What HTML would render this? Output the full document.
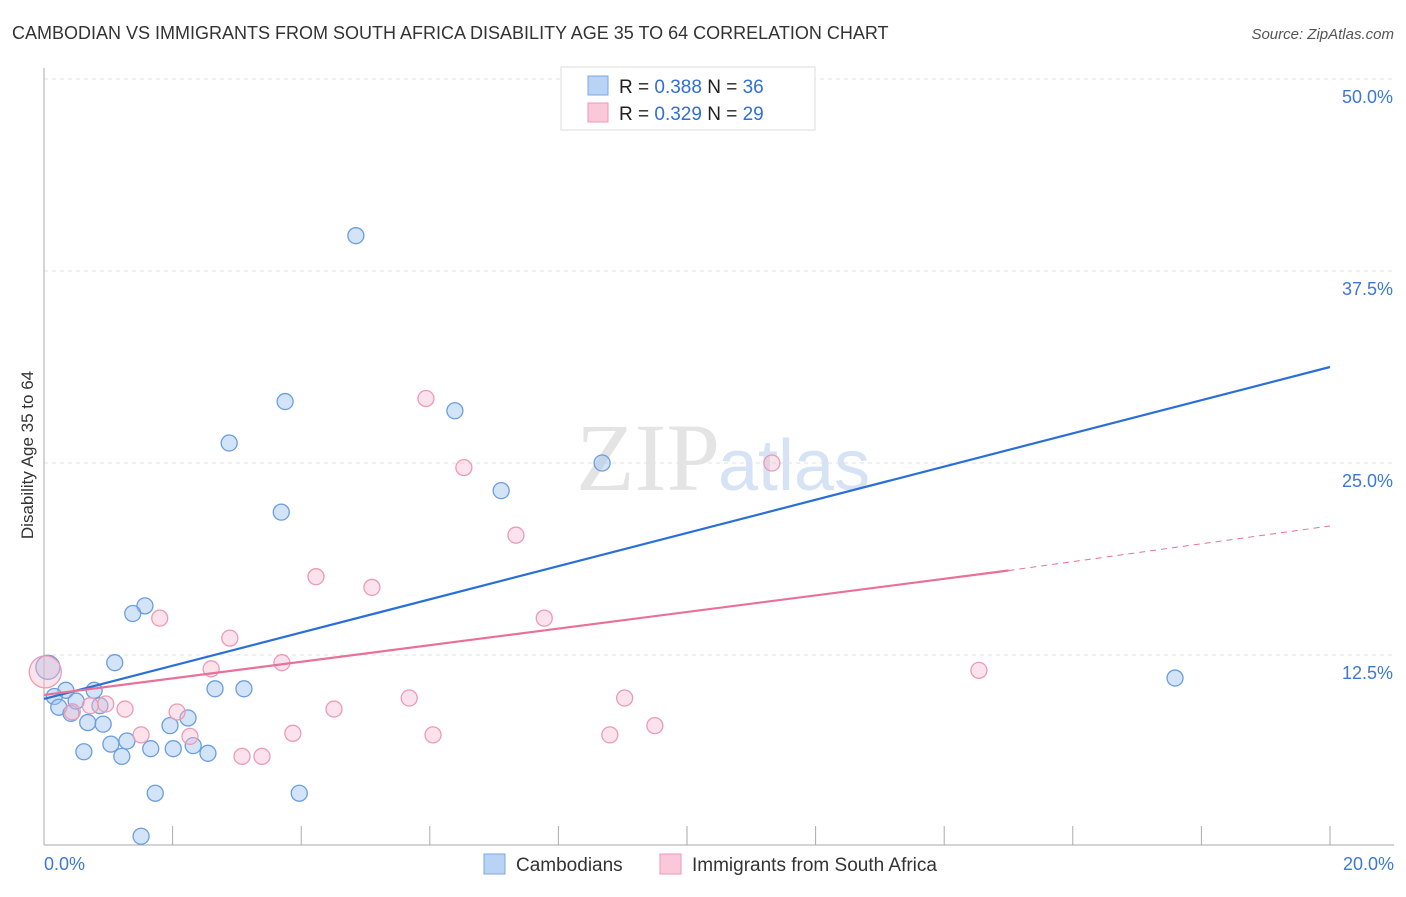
<!DOCTYPE html>
<html><head><meta charset="utf-8"><style>
body{margin:0;background:#fff;font-family:"Liberation Sans",sans-serif;}
</style></head><body>
<svg width="1406" height="892" xmlns="http://www.w3.org/2000/svg" font-family="Liberation Sans, sans-serif">
<text x="12" y="39" font-size="18" fill="#333">CAMBODIAN VS IMMIGRANTS FROM SOUTH AFRICA DISABILITY AGE 35 TO 64 CORRELATION CHART</text>
<text x="1394" y="39" font-size="15" fill="#555" font-style="italic" text-anchor="end">Source: ZipAtlas.com</text>
<text x="720" y="490" font-size="96" font-family="Liberation Serif, serif" fill="#e4e4e4" text-anchor="end">ZIP</text>
<text x="718" y="490" font-size="72" fill="#d5e3f5">atlas</text>
<g id="grid"></g>
<g id="axes"></g>
<g id="points"></g>
<g id="lines"></g>
<text transform="translate(33,455) rotate(-90)" font-size="17" fill="#333" text-anchor="middle">Disability Age 35 to 64</text>
<text x="44" y="870" font-size="18" fill="#3b78d8">0.0%</text>
<text x="1394" y="870" font-size="18" fill="#3b78d8" text-anchor="end">20.0%</text>
<g>
<rect x="561" y="67" width="254" height="63" fill="#fff" stroke="#ddd"/>
<rect x="588" y="76" width="20" height="19" fill="#b9d3f5" stroke="#7aa7e6"/>
<rect x="588" y="103" width="20" height="19" fill="#fac8d8" stroke="#ec98b4"/>
<text x="619" y="93" font-size="19" fill="#222">R = <tspan fill="#2f6fd6">0.388</tspan>   N = <tspan fill="#2f6fd6">36</tspan></text>
<text x="619" y="120" font-size="19" fill="#222">R = <tspan fill="#2f6fd6">0.329</tspan>   N = <tspan fill="#2f6fd6">29</tspan></text>
</g>
<g>
<rect x="484" y="854" width="21" height="20" fill="#b9d3f5" stroke="#7aa7e6"/>
<text x="516" y="871" font-size="19" fill="#333">Cambodians</text>
<rect x="660" y="854" width="21" height="20" fill="#fac8d8" stroke="#ec98b4"/>
<text x="692" y="871" font-size="19" fill="#333">Immigrants from South Africa</text>
</g>
</svg>
<script>
const yTicks=[12.5,25,37.5,50];
const yTickLabels=["12.5%","25.0%","37.5%","50.0%"];
const xTicks=[0,2,4,6,8,10,12,14,16,18,20];
const blueX=[4.85,3.75,6.39,2.88,8.68,3.69,7.11,1.57,1.38,1.10,17.59,0.06,0.34,0.78,0.16,2.66,3.11,0.23,0.87,0.42,2.24,0.68,0.92,1.96,1.29,1.04,1.66,2.01,0.62,2.32,1.21,2.55,1.73,3.97,1.51,0.50];
const blueY=[39.8,29.0,28.4,26.3,25.0,21.8,23.2,15.7,15.2,12.0,11.0,11.7,10.2,10.2,9.8,10.3,10.3,9.1,9.2,8.7,8.4,8.1,8.0,7.9,6.9,6.7,6.4,6.4,6.2,6.6,5.9,6.1,3.5,3.5,0.7,9.5];
const blueR=[8,8,8,8,8,8,8,8,8,8,8,12,8,8,8,8,8,8,8,8,8,8,8,8,8,8,8,8,8,8,8,8,8,8,8,8];
const pinkX=[5.94,6.53,11.32,7.34,4.23,5.10,1.80,7.78,2.89,3.70,2.60,14.54,0.02,5.68,9.03,1.26,2.07,4.51,0.96,9.50,3.87,6.05,8.80,1.51,2.27,3.08,3.39,0.44,0.72];
const pinkY=[29.2,24.7,25.0,20.3,17.6,16.9,14.9,14.9,13.6,12.0,11.6,11.5,11.4,9.7,9.7,8.98,8.79,8.98,9.31,7.9,7.4,7.3,7.3,7.3,7.2,5.9,5.9,8.8,9.2];
const pinkR=[8,8,8,8,8,8,8,8,8,8,8,8,16,8,8,8,8,8,8,8,8,8,8,8,8,8,8,8,8];
const blueTrend=[[0,9.64],[20,31.25]];
const pinkSolid=[[0,9.9],[15.0,18.0]];
const pinkDash=[[15.0,18.0],[20,20.9]];
const NS="http://www.w3.org/2000/svg";
const X=v=>44+v*64.3, Y=v=>847-v*15.36;
function mk(tag,attrs,parent){const e=document.createElementNS(NS,tag);for(const k in attrs)e.setAttribute(k,attrs[k]);document.getElementById(parent).appendChild(e);return e;}
yTicks.forEach((t,i)=>{
 const l=mk('line',{x1:44,x2:1394,y1:Y(t),y2:Y(t),stroke:'#e2e2e2','stroke-dasharray':'4,4'},'grid');
 
 
 const tx=mk('text',{x:1393,y:Y(t)+24,'font-size':18,fill:'#3b78d8','text-anchor':'end'},'grid');
 tx.textContent=yTickLabels[i];
 
 
});
let a=mk('line',{x1:44,x2:44,y1:68,y2:845,stroke:'#aaa'},'axes');


a=mk('line',{x1:44,x2:1394,y1:845,y2:845,stroke:'#aaa'},'axes');


xTicks.forEach(t=>{const l=mk('line',{x1:X(t),x2:X(t),y1:826,y2:845,stroke:'#aaa'},'axes');
 
 });
blueX.forEach((v,i)=>{const c=mk('circle',{cx:X(v),cy:Y(blueY[i]),r:blueR[i],fill:'rgba(160,195,240,0.45)',stroke:'#6a9ee0','stroke-width':1.3},'points');
 
 });
pinkX.forEach((v,i)=>{const c=mk('circle',{cx:X(v),cy:Y(pinkY[i]),r:pinkR[i],fill:'rgba(248,185,205,0.4)',stroke:'#ec9ab6','stroke-width':1.3},'points');
 
 });
let t=mk('line',{x1:X(blueTrend[0][0]),y1:Y(blueTrend[0][1]),x2:X(blueTrend[1][0]),y2:Y(blueTrend[1][1]),stroke:'#2a6fd6','stroke-width':2.2},'lines');


t=mk('line',{x1:X(pinkSolid[0][0]),y1:Y(pinkSolid[0][1]),x2:X(pinkSolid[1][0]),y2:Y(pinkSolid[1][1]),stroke:'#e8709a','stroke-width':2.2},'lines');


t=mk('line',{x1:X(pinkDash[0][0]),y1:Y(pinkDash[0][1]),x2:X(pinkDash[1][0]),y2:Y(pinkDash[1][1]),stroke:'#e8709a','stroke-width':1,'stroke-dasharray':'6,5'},'lines');


</script>
</body></html>
